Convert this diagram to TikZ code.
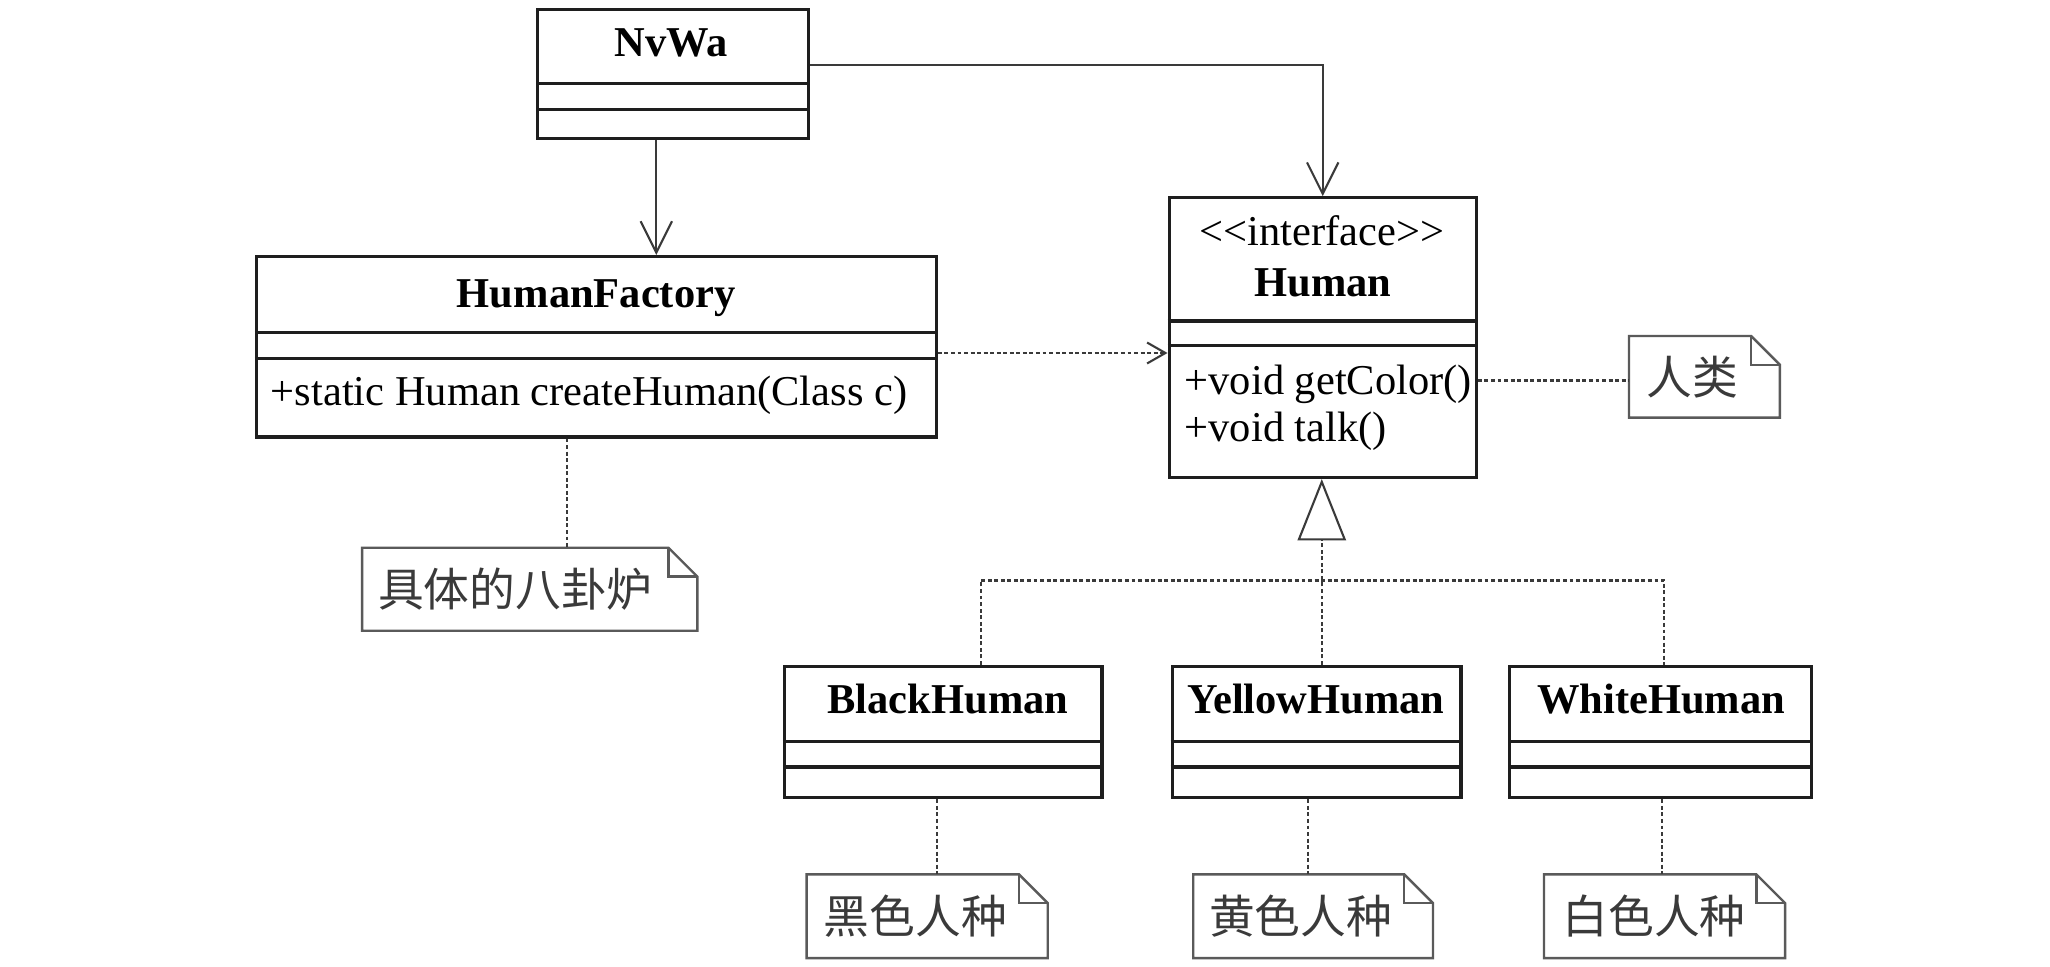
\documentclass[tikz,border=0pt]{standalone}
\usepackage{fontspec}
\setmainfont{Liberation Serif}
\newfontfamily\cjk{Noto Sans CJK SC}
\usetikzlibrary{arrows.meta}
\definecolor{boxline}{HTML}{1E1E1E}
\definecolor{conline}{HTML}{3A3A3A}
\definecolor{noteline}{HTML}{5A5A5A}
\definecolor{notetext}{HTML}{3A3A3A}
\tikzset{
 cls/.style={draw=boxline, line width=2.4pt, fill=white, rectangle, inner sep=0pt, anchor=north west},
 ttl/.style={font=\fontsize{32.5}{36}\selectfont\bfseries, inner sep=0pt, text height=22pt, text depth=6pt},
 mem/.style={font=\fontsize{32.5}{36}\selectfont, inner sep=0pt, anchor=west, text height=22pt, text depth=6pt},
 divider/.style={draw=boxline, line width=2.4pt},
 notebox/.style={rectangle, inner sep=0pt, anchor=north west},
 noteborder/.style={draw=noteline, line width=1.8pt, line join=miter},
 notetxt/.style={font=\cjk\fontsize{35}{38}\selectfont, text=notetext, inner sep=0pt, anchor=west},
 assoc/.style={draw=conline, line width=1.6pt, -{Straight Barb[length=24pt,width=24pt]}},
 depend/.style={draw=conline, line width=1.6pt, dash pattern=on 3pt off 2pt, -{Straight Barb[length=14pt,width=16pt]}},
 link/.style={draw=conline, line width=1.6pt, dash pattern=on 3pt off 2pt},
 realize/.style={draw=conline, line width=1.6pt, dash pattern=on 3pt off 2pt, -{Triangle[open,length=47pt,width=37pt]}}
}
\newcommand\notefold[1]{%
 \draw[noteborder] (#1.north west) -- ([xshift=-22pt]#1.north east) -- ([yshift=-22pt]#1.north east) -- (#1.south east) -- (#1.south west) -- cycle;
 \draw[noteborder] ([xshift=-22pt]#1.north east) |- ([yshift=-22pt]#1.north east);}
\begin{document}
\begin{tikzpicture}[x=1pt,y=-1pt]
\fill[white] (0,0) rectangle (1568,739);
\useasboundingbox (0,0) rectangle (1568,739);

% NvWa
\node[cls, minimum width=207pt, minimum height=99pt] (nvwa) at (410,6) {};
\draw[divider] (410,64) -- (617,64);
\draw[divider] (410,84) -- (617,84);
\node[ttl] (nvwaT) at (513.5,35) {NvWa};

% HumanFactory
\node[cls, minimum width=520pt, minimum height=138pt] (hf) at (195,195) {};
\draw[divider] (195,254.5) -- (715,254.5);
\draw[divider] (195,274) -- (715,274);
\node[ttl] (hfT) at (456,227) {HumanFactory};
\node[mem] (hfM) at (207,302) {+static Human createHuman(Class c)};

% Human
\node[cls, minimum width=235pt, minimum height=214pt] (human) at (893,150) {};
\draw[divider] (893,245.5) -- (1128,245.5);
\draw[divider] (893,264) -- (1128,264);
\node[mem, anchor=center] (humanS) at (1011,180) {<{}<interface>{}>};
\node[ttl] (humanT) at (1012,219) {Human};
\node[mem] (humanM1) at (906,294) {+void getColor()};
\node[mem] (humanM2) at (906,330) {+void talk()};

% Concrete humans
\node[cls, minimum width=243pt, minimum height=100.5pt] (black) at (598.7,508.5) {};
\draw[divider] (598.7,567) -- (841.7,567);
\draw[divider] (598.7,586.6) -- (841.7,586.6);
\node[ttl] (blackT) at (725,538) {BlackHuman};

\node[cls, minimum width=221pt, minimum height=100.5pt] (yellow) at (895.3,508.5) {};
\draw[divider] (895.3,567) -- (1116.3,567);
\draw[divider] (895.3,586.6) -- (1116.3,586.6);
\node[ttl] (yellowT) at (1006.5,538) {YellowHuman};

\node[cls, minimum width=231pt, minimum height=100.5pt] (white) at (1153.6,508.5) {};
\draw[divider] (1153.6,567) -- (1384.6,567);
\draw[divider] (1153.6,586.6) -- (1384.6,586.6);
\node[ttl] (whiteT) at (1270.5,538) {WhiteHuman};

% Notes
\node[notebox, minimum width=256pt, minimum height=63pt] (nF) at (277,419) {};
\notefold{nF}
\node[notetxt] (nFt) at ([xshift=12pt]nF.west) {具体的八卦炉};

\node[notebox, minimum width=115pt, minimum height=62pt] (nH) at (1246,257) {};
\notefold{nH}
\node[notetxt] (nHt) at ([xshift=13pt]nH.west) {人类};

\node[notebox, minimum width=184pt, minimum height=63.6pt] (nB) at (617,668.8) {};
\notefold{nB}
\node[notetxt] (nBt) at ([xshift=13pt]nB.west) {黑色人种};

\node[notebox, minimum width=183pt, minimum height=63.6pt] (nY) at (912.7,668.8) {};
\notefold{nY}
\node[notetxt] (nYt) at ([xshift=12pt]nY.west) {黄色人种};

\node[notebox, minimum width=184pt, minimum height=63.6pt] (nW) at (1181,668.8) {};
\notefold{nW}
\node[notetxt] (nWt) at ([xshift=14pt]nW.west) {白色人种};

% Connectors
\coordinate (cA) at (502,0);
\draw[assoc] (nvwa.south -| cA) -- (hf.north -| cA);
\coordinate (cB) at (0,50);
\draw[assoc] (nvwa.east |- cB) -| (human.north);
\coordinate (cD) at (0,270);
\draw[depend] (hf.east |- cD) -- (human.west |- cD);
\coordinate (cH) at (0,291);
\draw[link] (human.east |- cH) -- (nH.west |- cH);
\coordinate (cF) at (434,0);
\draw[link] (hf.south -| cF) -- (nF.north -| cF);

\coordinate (cT) at (1011,0);
\draw[realize] (yellow.north -| cT) -- (human.south -| cT);
\coordinate (cR) at (0,444);
\coordinate (cBx) at (750,0);
\coordinate (cWx) at (1273,0);
\draw[link] (black.north -| cBx) -- (cBx |- cR) -- (cWx |- cR) -- (white.north -| cWx);

\coordinate (c1) at (716.5,0);
\draw[link] (black.south -| c1) -- (nB.north -| c1);
\coordinate (c2) at (1000.5,0);
\draw[link] (yellow.south -| c2) -- (nY.north -| c2);
\coordinate (c3) at (1271.4,0);
\draw[link] (white.south -| c3) -- (nW.north -| c3);
\end{tikzpicture}
\end{document}
